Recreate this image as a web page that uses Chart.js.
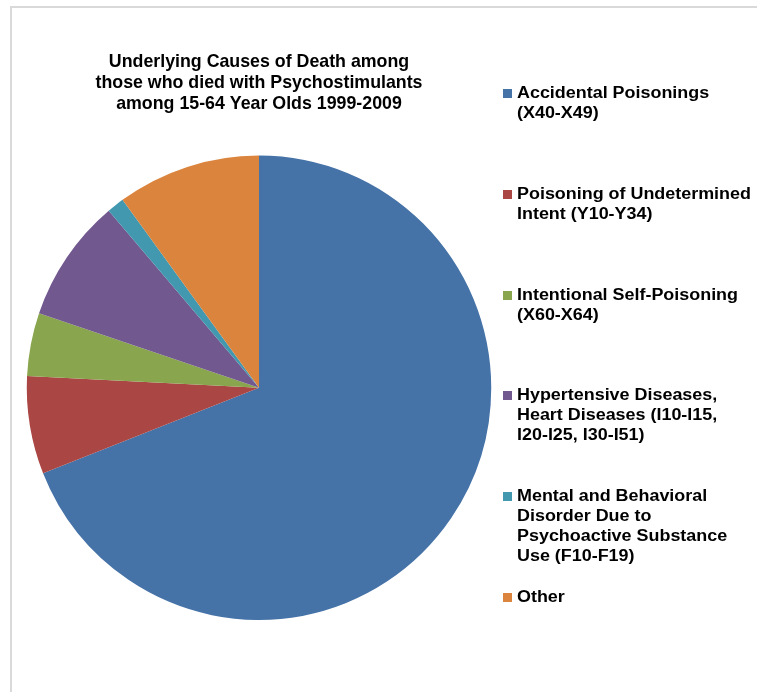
<!DOCTYPE html>
<html>
<head>
<meta charset="utf-8">
<script src="https://cdn.jsdelivr.net/npm/chart.js@4.4.1/dist/chart.umd.min.js"></script>
<style>
  html, body { margin: 0; padding: 0; background: #fff; width: 757px; height: 692px; overflow: hidden; }
  #frame { position: absolute; left: 10px; top: 6px; width: 900px; height: 900px;
           border-top: 2px solid #d9d9d9; border-left: 2px solid #d9d9d9; }
  #wrap { position: absolute; left: 0; top: 0; width: 518px; height: 692px; }
  #legend { position: absolute; left: 503px; top: 0; width: 254px; height: 692px;
            font-family: "Liberation Sans", Arial, sans-serif; font-weight: bold; font-size: 16px;
            line-height: 20px; color: #000; }
  .item { position: absolute; left: 0; }
  .sw { position: absolute; left: 0; top: 6px; width: 9px; height: 9px; }
  .txt { position: absolute; left: 14px; white-space: nowrap; transform: scaleX(1.12); transform-origin: 0 0; }
</style>
</head>
<body>
<div id="frame"></div>
<div id="wrap"><canvas id="c" width="518" height="692"></canvas></div>
<div id="legend"></div>
<script>
const titleLines = [
  "Underlying Causes of Death among",
  "those who died with Psychostimulants",
  "among 15-64 Year Olds 1999-2009"
];
const categories = [
  ["Accidental Poisonings", "(X40-X49)"],
  ["Poisoning of Undetermined", "Intent (Y10-Y34)"],
  ["Intentional Self-Poisoning", "(X60-X64)"],
  ["Hypertensive Diseases,", "Heart Diseases (I10-I15,", "I20-I25, I30-I51)"],
  ["Mental and Behavioral", "Disorder Due to", "Psychoactive Substance", "Use (F10-F19)"],
  ["Other"]
];
const shares = [69.0, 6.8, 4.4, 8.6, 1.2, 10.0];
const colors = ["#4572A7", "#AA4643", "#89A54E", "#71588F", "#4198AF", "#DB843D"];

const chart = new Chart(document.getElementById("c"), {
  type: "pie",
  data: {
    labels: categories.map(l => l.join(" ")),
    datasets: [{ data: shares, backgroundColor: colors, borderWidth: 0, hoverOffset: 0 }]
  },
  options: {
    responsive: false,
    animation: false,
    events: [],
    layout: { padding: { top: 0, bottom: 72, left: 0, right: 0 } },
    plugins: {
      legend: { display: false },
      tooltip: { enabled: false },
      title: {
        display: true,
        text: titleLines,
        color: "#000",
        font: { family: "'Liberation Sans', Arial, sans-serif", size: 17.8, weight: "bold", lineHeight: 1.18 },
        padding: { top: 51.5, bottom: 41 }
      }
    }
  }
});

const legend = document.getElementById("legend");
categories.forEach((lines, i) => {
  const item = document.createElement("div");
  item.className = "item";
  item.style.top = (83 + i * 100.8) + "px";
  const sw = document.createElement("div");
  sw.className = "sw";
  sw.style.background = colors[i];
  const txt = document.createElement("div");
  txt.className = "txt";
  txt.innerHTML = lines.join("<br>");
  item.appendChild(sw);
  item.appendChild(txt);
  legend.appendChild(item);
});
</script>
</body>
</html>
